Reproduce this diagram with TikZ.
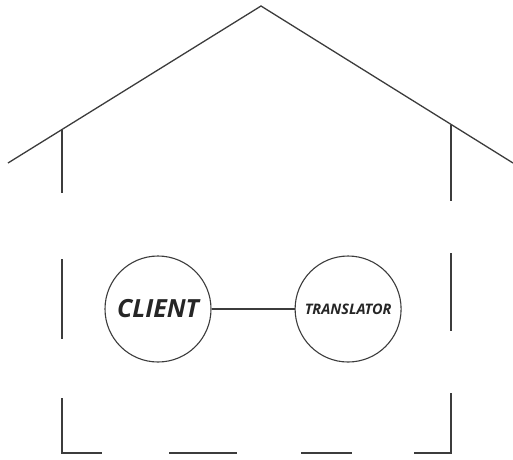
\documentclass[tikz,border=0pt]{standalone}
\usepackage{fontspec}
\setmainfont{Open Sans}
\usepackage{tikz}
\usetikzlibrary{positioning}
\definecolor{WallGray}{HTML}{3C3C3C}

\begin{document}
\begin{tikzpicture}[
  x = 1pt, y = -1pt,
  wall/.style   = {draw=WallGray, line width=1.3pt},
  party/.style  = {circle, draw=WallGray, line width=1.1pt, fill=white,
                   minimum size=106pt, inner sep=0pt,
                   font=\bfseries\itshape, text=black!85},
  link/.style   = {draw=WallGray, line width=1.1pt},
]
\useasboundingbox (0,0) rectangle (513,459);
% roof
\draw[wall] (8,163) -- (261,6) -- (513,163);
% left wall
\draw[wall] (62,130) -- (62,193);
\draw[wall] (62,259) -- (62,339);
\draw[wall] (62,398) -- (62,453) -- (102,453);
% floor
\draw[wall] (169,453) -- (237,453);
\draw[wall] (301,453) -- (352,453);
% right wall
\draw[wall] (414,453) -- (451,453) -- (451,393);
\draw[wall] (451,253) -- (451,331);
\draw[wall] (451,125) -- (451,201);
% the two parties
\node[party] (client) at (158,309) {\fontsize{25}{27}\selectfont CLIENT};
\node[party, right=83pt of client] (translator) {\fontsize{14.5}{16}\selectfont TRANSLATOR};
\draw[link] (client) -- (translator);
\end{tikzpicture}
\end{document}
